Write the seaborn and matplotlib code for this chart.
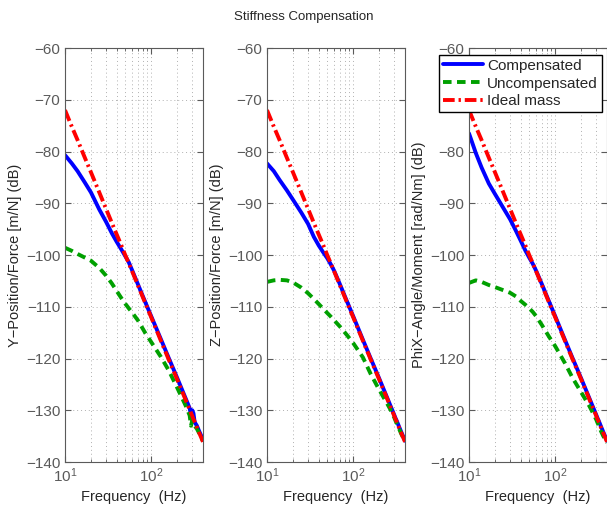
import matplotlib
matplotlib.use("Agg")
import matplotlib.pyplot as plt
import seaborn as sns
import pandas as pd

# frequency grid (Hz)
freq = [10, 12, 14, 17, 20, 25, 30, 35, 40, 45, 50, 55, 60, 70, 85, 100,
        130, 160, 200, 250, 280, 290, 300, 310, 320, 340, 360, 400]

# ideal mass line (dB), same in every panel
ideal = [-72.0, -75.2, -77.8, -81.2, -84.0, -87.9, -91.1, -93.8, -96.1, -98.1,
         -100.0, -101.6, -103.1, -105.8, -109.2, -112.0, -116.6, -120.2, -124.0,
         -127.9, -129.9, -130.5, -131.1, -131.7, -132.2, -133.3, -134.3, -136.1]

# Y position / force
y_comp = [-80.7, -82.3, -83.8, -86.0, -87.9, -91.2, -93.6, -95.8, -97.5, -98.9,
          -100.2, -101.4, -102.9, -105.6, -109.0, -111.8, -116.3, -119.9, -123.7,
          -127.6, -129.6, -131.0, -130.0, -130.6, -132.3, -133.0, -134.0, -135.7]
y_uncomp = [-98.6, -99.2, -99.8, -100.5, -101.1, -102.5, -104.0, -105.5, -107.0,
            -108.3, -109.4, -110.3, -111.1, -112.6, -115.0, -116.8, -119.7, -122.3,
            -125.6, -129.0, -131.0, -133.0, -132.0, -131.8, -133.0, -133.6, -134.4,
            -136.0]

# Z position / force
z_comp = [-82.3, -83.8, -85.5, -87.5, -89.3, -91.8, -94.0, -96.5, -98.2, -99.5,
          -100.6, -101.8, -103.0, -105.6, -109.0, -111.8, -116.4, -120.0, -123.8,
          -127.7, -129.7, -130.3, -130.9, -131.5, -132.0, -133.1, -134.1, -135.9]
z_uncomp = [-105.2, -104.9, -104.8, -104.9, -105.3, -106.3, -107.4, -108.5, -109.5,
            -110.4, -111.2, -111.9, -112.6, -113.8, -115.5, -117.0, -119.8, -123.0,
            -126.0, -128.8, -130.3, -130.9, -131.4, -132.0, -132.5, -133.5, -134.5,
            -136.0]

# PhiX angle / moment
phi_comp = [-76.5, -80.3, -83.1, -86.2, -88.2, -90.9, -93.1, -95.3, -97.3, -99.1,
            -100.5, -101.7, -103.0, -105.6, -109.0, -111.8, -116.4, -120.0, -123.8,
            -127.7, -129.7, -130.3, -130.9, -131.5, -132.0, -133.1, -134.1, -135.9]
phi_uncomp = [-105.4, -104.9, -105.2, -105.8, -106.2, -106.8, -107.3, -108.0, -108.9,
              -109.6, -110.3, -111.0, -111.8, -113.5, -115.8, -117.6, -120.9, -123.8,
              -126.5, -129.2, -130.8, -131.3, -131.8, -132.4, -132.9, -134.0, -134.9,
              -136.3]

ylabels = ["Y\u2212Position/Force [m/N] (dB)",
           "Z\u2212Position/Force [m/N] (dB)",
           "PhiX\u2212Angle/Moment [rad/Nm] (dB)"]
panels = [(y_comp, y_uncomp), (z_comp, z_uncomp), (phi_comp, phi_uncomp)]

sns.set_style("ticks")
plt.rcParams["font.family"] = ["Liberation Sans", "DejaVu Sans"]
plt.rcParams["mathtext.fontset"] = "custom"
plt.rcParams["mathtext.rm"] = "Liberation Sans"
plt.rcParams["mathtext.it"] = "Liberation Sans"

fig = plt.figure(figsize=(6.07, 5.09), dpi=100)
W, H = 607.0, 509.0
lefts = [65, 267, 469]
gray = "#5a5a5a"

for i, (comp, uncomp) in enumerate(panels):
    ax = fig.add_axes([lefts[i] / W, 47 / H, 138 / W, 414 / H])
    df = pd.DataFrame({"freq": freq, "comp": comp, "uncomp": uncomp, "ideal": ideal})
    sns.lineplot(data=df, x="freq", y="comp", ax=ax, color="#0000ff", lw=2.8,
                 label="Compensated", legend=False)
    sns.lineplot(data=df, x="freq", y="uncomp", ax=ax, color="#00a000", lw=2.8,
                 linestyle=(0, (2.2, 1.4)), label="Uncompensated", legend=False)
    sns.lineplot(data=df, x="freq", y="ideal", ax=ax, color="#ff0000", lw=2.8,
                 linestyle=(0, (3.0, 1.0, 0.6, 1.0)), label="Ideal mass", legend=False)

    ax.set_xscale("log")
    ax.set_xlim(10, 400)
    ax.set_ylim(-140, -60)
    ax.set_yticks(range(-140, -59, 10))
    ax.set_xticks([10, 100])
    ax.set_xticklabels(["$10^{1}$", "$10^{2}$"])
    ax.grid(True, which="both", axis="x", color="#b0b0b0", linestyle=(0, (1, 3)), lw=0.7)
    ax.grid(True, which="major", axis="y", color="#b0b0b0", linestyle=(0, (1, 3)), lw=0.7)
    ax.tick_params(which="both", direction="in", top=True, right=True,
                   colors=gray, labelsize=11, labelcolor=gray)
    ax.tick_params(which="major", length=4)
    ax.tick_params(which="minor", length=2)
    for s in ax.spines.values():
        s.set_color(gray)
        s.set_linewidth(0.8)
    ax.set_xlabel("Frequency  (Hz)", fontsize=10.5, labelpad=3)
    ax.set_ylabel(ylabels[i], fontsize=10.5, labelpad=3)

    if i == 2:
        ax.legend(loc="upper left", bbox_to_anchor=(439 / W, 1 - 55 / H),
                  bbox_transform=fig.transFigure, fontsize=11, fancybox=False,
                  framealpha=1, edgecolor="black", borderpad=0.25, labelspacing=0.25,
                  handlelength=2.6, handletextpad=0.3, borderaxespad=0)

fig.suptitle("Stiffness Compensation", y=1 - 17 / H, fontsize=9.5, va="center")
fig.savefig("out.png", dpi=100)
